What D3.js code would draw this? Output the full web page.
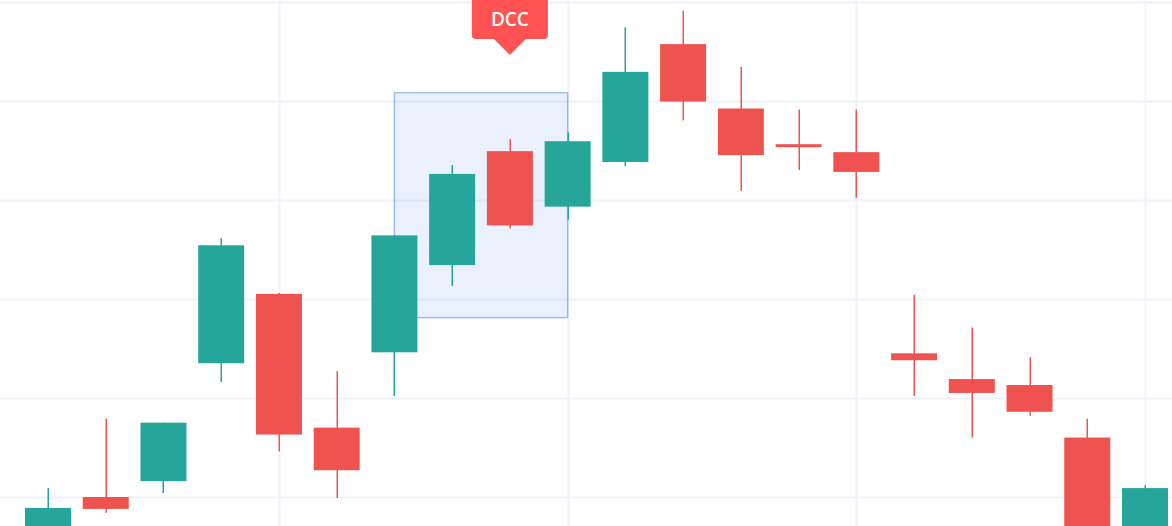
<!DOCTYPE html>
<html>
<head>
<meta charset="utf-8">
<script src="https://cdn.jsdelivr.net/npm/d3@7"></script>
<style>
  body { margin: 0; background: #fff; overflow: hidden; }
</style>
</head>
<body>
<div id="chart"></div>
<script>
// data (bar index, OHLC)
const bars = d3.range(20);
const opens  = [95.0, 100.0, 101.6, 113.5, 120.5, 107.0, 114.6, 123.4, 134.9, 129.3, 133.8, 145.7, 139.2, 135.6, 134.8, 114.5, 111.9, 111.3, 106.0, 95.0];
const highs  = [100.9, 107.9, 107.5, 126.1, 120.6, 112.7, 126.4, 133.5, 136.1, 136.8, 147.4, 149.1, 143.4, 139.1, 139.1, 120.4, 117.1, 114.1, 107.9, 101.2];
const lows   = [94.0, 98.4, 100.4, 111.6, 104.6, 99.9, 110.2, 121.3, 127.1, 128.0, 133.4, 138.0, 130.9, 133.0, 130.2, 110.2, 106.0, 108.2, 94.0, 94.0];
const closes = [98.9, 98.8, 107.5, 125.4, 106.3, 102.7, 126.4, 132.6, 127.4, 135.9, 142.9, 139.9, 134.5, 135.3, 132.8, 113.8, 110.5, 108.6, 93.3, 100.9];
const priceTicks = [100, 110, 120, 130, 140, 150];
const timeTicks = [4, 9, 14, 19];

// pattern box and label
const boxBars = [6, 9];
const boxPrices = [140.8, 118.1];
const labelBar = 8;
const labelPrice = 144.6;
const labelText = "DCC";

const width = 1172;
const height = 526;
const upColor = "#26a69a";
const downColor = "#ef5350";

const svg = d3.select("#chart")
    .append("svg")
    .attr("width", width)
    .attr("height", height);

const x = d3.scaleLinear()
    .domain([0, 19])
    .range([48, 1145]);

const y = d3.scaleLinear()
    .domain([100, 150])
    .range([497, 1.5]);

const candleW = 46;

// grid
svg.append("g")
    .selectAll("line")
    .data(priceTicks)
    .enter().append("line")
    .attr("x1", 0)
    .attr("x2", width)
    .attr("y1", d => Math.round(y(d)) + 0.5)
    .attr("y2", d => Math.round(y(d)) + 0.5)
    .attr("stroke", "#f0f3fa")
    .attr("stroke-width", 2);

svg.append("g")
    .selectAll("line")
    .data(timeTicks)
    .enter().append("line")
    .attr("x1", d => Math.round(x(d)) + 0.5)
    .attr("x2", d => Math.round(x(d)) + 0.5)
    .attr("y1", 0)
    .attr("y2", height)
    .attr("stroke", "#f0f3fa")
    .attr("stroke-width", 2);

// pattern box
svg.append("rect")
    .attr("x", x(boxBars[0]))
    .attr("y", y(boxPrices[0]))
    .attr("width", x(boxBars[1]) - x(boxBars[0]))
    .attr("height", y(boxPrices[1]) - y(boxPrices[0]))
    .attr("fill", "rgba(33,100,220,0.09)")
    .attr("stroke", "rgba(33,100,220,0.4)")
    .attr("stroke-width", 1.5);

// candles
const candles = svg.append("g")
    .selectAll("g")
    .data(bars)
    .enter().append("g");

candles.append("rect")
    .attr("x", i => Math.round(x(i)) - 0.5)
    .attr("width", 1.5)
    .attr("y", i => y(highs[i]))
    .attr("height", i => y(lows[i]) - y(highs[i]))
    .attr("fill", i => closes[i] >= opens[i] ? upColor : downColor);

candles.append("rect")
    .attr("x", i => x(i) - candleW / 2)
    .attr("width", candleW)
    .attr("y", i => y(Math.max(opens[i], closes[i])))
    .attr("height", i => Math.max(1, Math.abs(y(opens[i]) - y(closes[i]))))
    .attr("fill", i => closes[i] >= opens[i] ? upColor : downColor);

// label
const lx = x(labelBar);
const ly = y(labelPrice);
const lw = 76, lh = 50, arrow = 16, r = 4;
const boxTop = ly - arrow - lh;
const boxLeft = lx - lw / 2, boxRight = lx + lw / 2, boxBottom = ly - arrow;
const p = d3.path();
p.moveTo(boxLeft, boxTop);
p.lineTo(boxRight, boxTop);
p.lineTo(boxRight, boxBottom - r);
p.quadraticCurveTo(boxRight, boxBottom, boxRight - r, boxBottom);
p.lineTo(lx + arrow, boxBottom);
p.lineTo(lx, ly);
p.lineTo(lx - arrow, boxBottom);
p.lineTo(boxLeft + r, boxBottom);
p.quadraticCurveTo(boxLeft, boxBottom, boxLeft, boxBottom - r);
p.closePath();

svg.append("path")
    .attr("d", p.toString())
    .attr("fill", "#ff5252");

svg.append("text")
    .attr("x", lx)
    .attr("y", boxBottom - 13)
    .attr("text-anchor", "middle")
    .attr("fill", "#fff")
    .style("font-family", "'Open Sans', sans-serif")
    .style("font-weight", 600)
    .style("font-size", "19px")
    .text(labelText);
</script>
</body>
</html>
